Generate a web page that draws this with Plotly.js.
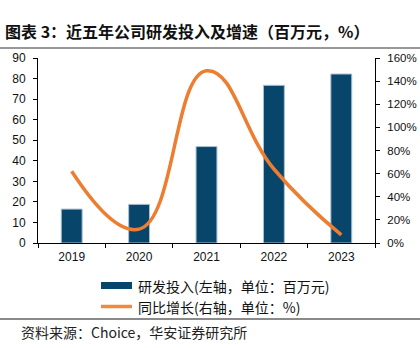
<!DOCTYPE html>
<html><head><meta charset="utf-8">
<script src="https://cdn.plot.ly/plotly-3.0.1.min.js"></script>
<style>html,body{margin:0;padding:0;background:#fff}#chart{width:420px;height:348px}</style>
</head><body><div id="chart"></div>
<script>
const years = ['2019','2020','2021','2022','2023'];
const rdInvest = [16.5, 18.8, 46.9, 76.7, 82.2];
const growthPct = [62, 12, 149, 64, 7];
const leftTicks = [0,10,20,30,40,50,60,70,80,90];
const rightTicks = [0,20,40,60,80,100,120,140,160];
const rightTickText = ['0%','20%','40%','60%','80%','100%','120%','140%','160%'];
const titleText = '图表 3：近五年公司研发投入及增速（百万元，%）';
const legendBar = '研发投入(左轴，单位：百万元)';
const legendLine = '同比增长(右轴，单位：%)';
const sourceText = '资料来源：Choice，华安证券研究所';

const L = 38, R = 375, T = 58, B = 243, W = 420, H = 348;
const px = x => (x - L) / (R - L);
const py = y => (B - y) / (B - T);

const cjk = '"Noto Sans CJK SC", sans-serif';
const latin = '"Liberation Sans", Arial, sans-serif';

const traces = [
  {type:'bar', x:years, y:rdInvest, name:legendBar, width:0.31,
   marker:{color:'#08456B', line:{color:'#A9C0D3', width:1}}, yaxis:'y', showlegend:false},
  {type:'scatter', mode:'lines', x:years, y:growthPct, name:legendLine, yaxis:'y2',
   line:{color:'#ED7D31', width:3.5, shape:'spline', smoothing:1.3}, showlegend:false}
];

const layout = {
  width:W, height:H, paper_bgcolor:'#fff', plot_bgcolor:'#fff',
  margin:{l:L, r:W-R, t:T, b:H-B},
  title:{text:titleText, x:5/W, xanchor:'left', xref:'container', y:1-32/H, yanchor:'middle',
         font:{family:cjk, size:16, color:'#111', weight:'bold'}},
  xaxis:{type:'category', showline:true, linecolor:'#000', linewidth:1, ticks:'outside', tickson:'boundaries',
         ticklen:4, tickcolor:'#000', showgrid:false, zeroline:false,
         tickfont:{family:latin, size:12, color:'#111'}, ticklabelstandoff:3},
  yaxis:{range:[0,90], tickvals:leftTicks, showline:true, linecolor:'#000', linewidth:1, ticks:'outside',
         ticklen:4, tickcolor:'#000', showgrid:false, zeroline:false,
         tickfont:{family:latin, size:12, color:'#111'}, ticklabelstandoff:5},
  yaxis2:{overlaying:'y', side:'right', range:[0,160], tickmode:'array', tickvals:rightTicks, ticktext:rightTickText,
          showline:true, linecolor:'#000', linewidth:1, ticks:'outside', ticklen:4, tickcolor:'#000',
          showgrid:false, zeroline:false, tickfont:{family:latin, size:11.5, color:'#111'}, ticklabelstandoff:5},
  showlegend:false,
  shapes:[
    {type:'line', xref:'paper', yref:'paper', x0:px(0), x1:px(W), y0:py(48), y1:py(48), line:{color:'#333', width:1}},
    {type:'line', xref:'paper', yref:'paper', x0:px(0), x1:px(W), y0:py(319), y1:py(319), line:{color:'#8a8a8a', width:2}},
    {type:'rect', xref:'paper', yref:'paper', x0:px(101), x1:px(132), y0:py(289), y1:py(282), fillcolor:'#08456B', line:{width:0}},
    {type:'line', xref:'paper', yref:'paper', x0:px(101), x1:px(132), y0:py(306.5), y1:py(306.5), line:{color:'#F08A3C', width:3.5}}
  ],
  annotations:[
    {text:legendBar, xref:'paper', yref:'paper', x:px(136), y:py(285.5), xanchor:'left', yanchor:'middle', showarrow:false,
     font:{family:cjk, size:14, color:'#111'}},
    {text:legendLine, xref:'paper', yref:'paper', x:px(136), y:py(306.5), xanchor:'left', yanchor:'middle', showarrow:false,
     font:{family:cjk, size:14, color:'#111'}},
    {text:sourceText, xref:'paper', yref:'paper', x:px(19), y:py(332), xanchor:'left', yanchor:'middle', showarrow:false,
     font:{family:cjk, size:14, color:'#222'}}
  ]
};
Plotly.newPlot('chart', traces, layout, {displayModeBar:false, staticPlot:true});
</script></body></html>
